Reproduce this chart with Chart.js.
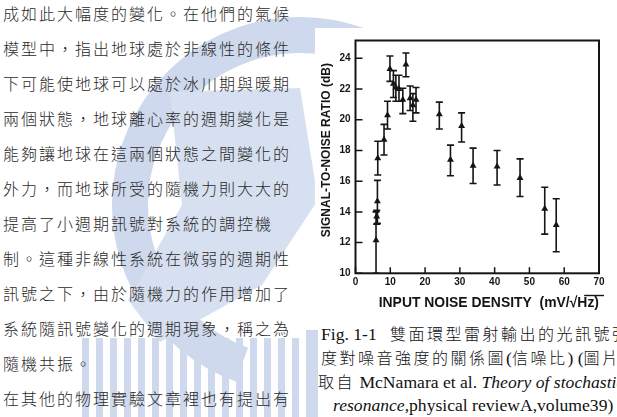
<!DOCTYPE html>
<html>
<head>
<meta charset="utf-8">
<script src="https://cdn.jsdelivr.net/npm/chart.js@4.4.1/dist/chart.umd.min.js"></script>
<style>
html, body { margin: 0; padding: 0; background: #fff; }
body { width: 617px; height: 417px; position: relative; overflow: hidden; }
#mark { position: absolute; left: 0; top: 0; }
.txt { position: absolute; left: 3px; top: -4.5px; font: 300 16px "Noto Sans CJK TC"; line-height: 35px;
       letter-spacing: 2px; color: #2a2a2a; white-space: nowrap; }
#fig { position: absolute; left: 315px; top: 28px; width: 302px; height: 290px; background: #fff; }
.cap { position: absolute; left: 321px; top: 321.5px; font: 17.6px "Liberation Serif", "Noto Sans CJK TC";
       line-height: 23px; color: #111; white-space: nowrap; }
.cap .cj { font-family: "Noto Sans CJK TC"; font-weight: 300; font-size: 16px; letter-spacing: 2.5px; }
</style>
</head>
<body>
<svg id="mark" width="617" height="417">
  <path d="M 241.9 364.7 A 170 170 0 1 1 467.4 175.5" fill="none" stroke="#cfd9ed" stroke-width="36"/>
  <polygon points="170,92 300,88 318,200 262,285 160,342 128,300 182,205" fill="#d7e0f0"/>
  <g fill="#cfd9ed">
    <rect x="82" y="338" width="7" height="79"/><rect x="96" y="338" width="7" height="79"/>
    <rect x="110" y="338" width="7" height="79"/><rect x="124" y="338" width="7" height="79"/>
    <rect x="138" y="338" width="7" height="79"/><rect x="152" y="338" width="7" height="79"/>
    <rect x="166" y="338" width="7" height="79"/><rect x="180" y="338" width="7" height="79"/>
    <rect x="194" y="338" width="7" height="79"/><rect x="208" y="338" width="7" height="79"/>
    <rect x="222" y="338" width="7" height="79"/><rect x="236" y="338" width="7" height="79"/>
    <rect x="250" y="338" width="7" height="79"/><rect x="264" y="338" width="7" height="79"/>
    <rect x="278" y="338" width="7" height="79"/><rect x="292" y="338" width="7" height="79"/>
    <rect x="306" y="330" width="12" height="87"/>
  </g>
</svg>

<div class="txt">
  <div>成如此大幅度的變化。在他們的氣候</div>
  <div>模型中，指出地球處於非線性的條件</div>
  <div>下可能使地球可以處於冰川期與暖期</div>
  <div>兩個狀態，地球離心率的週期變化是</div>
  <div>能夠讓地球在這兩個狀態之間變化的</div>
  <div>外力，而地球所受的隨機力則大大的</div>
  <div>提高了小週期訊號對系統的調控機</div>
  <div>制。這種非線性系統在微弱的週期性</div>
  <div>訊號之下，由於隨機力的作用增加了</div>
  <div>系統隨訊號變化的週期現象，稱之為</div>
  <div>隨機共振。</div>
  <div>在其他的物理實驗文章裡也有提出有</div>
</div>

<div id="fig"><canvas id="c" width="302" height="290"></canvas></div>

<div class="cap">
  <div>Fig. 1-1&nbsp;&nbsp; <span class="cj">雙面環型雷射輸出的光訊號強</span></div>
  <div><span class="cj">度對噪音強度的關係圖</span>(<span class="cj">信噪比</span>) (<span class="cj">圖片摘</span></div>
  <div style="margin-left:-3px"><span class="cj">取自</span> McNamara et al. <i>Theory of stochastic</i></div>
  <div style="margin-left:12px"><i>resonance</i>,physical reviewA,volume39)</div>
</div>

<script>
// values
const noise = [5.9, 6.1, 6.3, 6.4, 8.2, 9.2, 9.9, 10.9, 11.6, 12.5, 13.6, 14.5, 15.7, 16.5, 17.4,
               24.1, 27.3, 30.5, 33.8, 40.7, 47.3, 54.4, 57.7];
const snr = [12.15, 13.7, 14.7, 17.5, 18.7, 20.3, 23.3, 22.35, 22.1, 22.0, 21.3, 23.6, 21.4, 20.95, 21.3,
             20.35, 17.4, 19.6, 17.0, 16.95, 16.2, 14.2, 13.15];
const snrLow = [10.0, 13.2, 13.25, 16.4, 17.7, 19.4, 22.5, 21.45, 21.2, 21.2, 20.4, 22.8, 20.6, 19.9, 20.45,
                19.4, 16.35, 18.55, 15.85, 15.75, 15.0, 12.55, 11.4];
const snrHigh = [14.0, 14.1, 16.05, 18.6, 19.7, 21.2, 24.15, 23.2, 22.9, 22.9, 22.05, 24.35, 22.2, 21.7, 22.1,
                 21.15, 18.35, 20.45, 18.15, 18.0, 17.45, 15.6, 14.85];

const xTitle = '      INPUT NOISE DENSITY  (mV/\u221AHz)';
const yTitle = '    SIGNAL-TO-NOISE RATIO (dB)';

const ink = '#151515';
const tickFont = { family: 'Liberation Sans', weight: 'bold', size: 10 };

// error bars with caps, under the triangles
const errorBars = {
    id: 'errorBars',
    beforeDatasetsDraw(chart) {
        const { ctx, scales: { x, y } } = chart;
        ctx.save();
        ctx.strokeStyle = ink;
        ctx.lineWidth = 1.6;
        ctx.beginPath();
        noise.forEach((v, i) => {
            const px = x.getPixelForValue(v);
            const lo = y.getPixelForValue(snrLow[i]);
            const hi = y.getPixelForValue(snrHigh[i]);
            ctx.moveTo(px, lo); ctx.lineTo(px, hi);
            ctx.moveTo(px - 3.5, lo); ctx.lineTo(px + 3.5, lo);
            ctx.moveTo(px - 3.5, hi); ctx.lineTo(px + 3.5, hi);
        });
        ctx.stroke();
        ctx.restore();
    }
};

// box frame, inward ticks and the bar over Hz
const frame = {
    id: 'frame',
    afterDraw(chart) {
        const { ctx, chartArea: a, scales: { x, y } } = chart;
        ctx.save();
        ctx.strokeStyle = ink;
        ctx.lineWidth = 2;
        ctx.strokeRect(a.left, a.top, a.right - a.left, a.bottom - a.top);
        ctx.lineWidth = 1.5;
        ctx.beginPath();
        x.ticks.forEach(t => {
            const px = x.getPixelForValue(t.value);
            ctx.moveTo(px, a.bottom); ctx.lineTo(px, a.bottom - 6);
        });
        y.ticks.forEach(t => {
            const py = y.getPixelForValue(t.value);
            ctx.moveTo(a.left, py); ctx.lineTo(a.left + 7, py);
        });
        ctx.stroke();

        const opts = x.options.title;
        ctx.font = 'bold ' + opts.font.size + 'px "Liberation Sans"';
        const w = ctx.measureText(xTitle).width;
        const start = (a.left + a.right) / 2 - w / 2;
        const k = xTitle.indexOf('Hz');
        const x0 = start + ctx.measureText(xTitle.slice(0, k)).width - 1;
        const x1 = start + ctx.measureText(xTitle.slice(0, k + 2)).width + 0.5;
        const ty = x.bottom - opts.padding.bottom - opts.font.size * 1.2 / 2 - opts.font.size * 0.5;
        ctx.lineWidth = 1.4;
        ctx.beginPath();
        ctx.moveTo(x0, ty); ctx.lineTo(x1, ty);
        ctx.stroke();
        ctx.restore();
    }
};

new Chart(document.getElementById('c'), {
    type: 'scatter',
    data: {
        datasets: [{
            data: noise.map((v, i) => ({ x: v, y: snr[i] })),
            pointStyle: 'triangle',
            pointRadius: 4,
            backgroundColor: ink,
            borderColor: ink,
            borderWidth: 0
        }]
    },
    options: {
        responsive: false,
        devicePixelRatio: 1,
        animation: false,
        layout: { padding: { left: 0, right: 18, top: 12.5, bottom: 0 } },
        plugins: { legend: { display: false }, tooltip: { enabled: false } },
        scales: {
            x: {
                type: 'linear',
                min: 0,
                max: 70,
                grid: { display: false, drawTicks: false },
                border: { display: false },
                ticks: { stepSize: 10, font: tickFont, color: ink, padding: 3, maxRotation: 0 },
                title: {
                    display: true,
                    text: xTitle,
                    color: ink,
                    font: { family: 'Liberation Sans', weight: 'bold', size: 15 },
                    padding: { top: 0, bottom: 6 }
                },
                afterFit(scale) { scale.height = 44.7; }
            },
            y: {
                min: 10,
                max: 25.16,
                grid: { display: false, drawTicks: false },
                border: { display: false },
                ticks: { stepSize: 2, includeBounds: false, font: tickFont, color: ink, padding: 5 },
                title: {
                    display: true,
                    text: yTitle,
                    color: ink,
                    font: { family: 'Liberation Sans', weight: 'bold', size: 12 },
                    padding: { top: 4.5, bottom: 0 }
                },
                afterFit(scale) { scale.width = 40.5; }
            }
        }
    },
    plugins: [errorBars, frame]
});
</script>
</body>
</html>
